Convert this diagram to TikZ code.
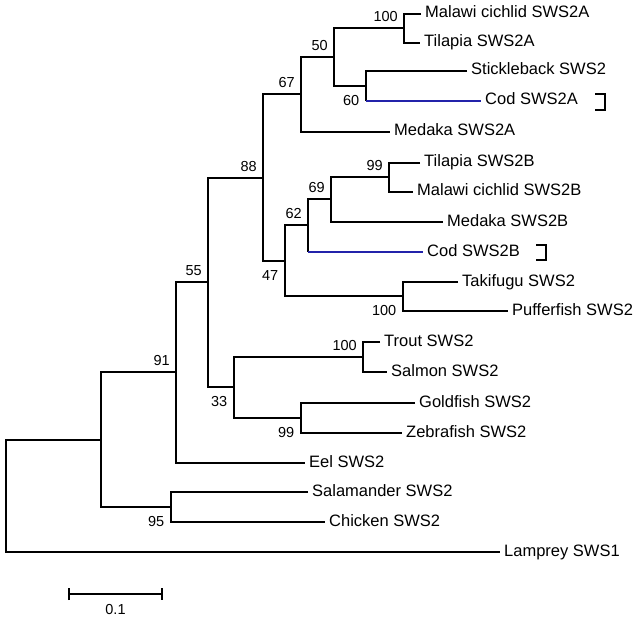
\documentclass[tikz,border=0pt]{standalone}
\usepackage{fontspec}
\setmainfont{Liberation Sans}
\usepackage{tikz}
\usetikzlibrary{positioning, calc, arrows.meta}
\definecolor{codblue}{RGB}{35,35,170}
\tikzset{
  branch/.style={draw=black,line width=1.8pt},
  codbranch/.style={draw=codblue,line width=1.2pt},
  leaf/.style={anchor=west,inner xsep=4pt,inner ysep=0pt,text height=12pt,text depth=4pt,font=\fontsize{16.5pt}{18pt}\selectfont},
  boot/.style={inner sep=0pt,font=\fontsize{14.5pt}{16pt}\selectfont},
  bootup/.style={boot,above left=6.5pt and 6pt of #1},
  bootdown/.style={boot,below left=9.5pt and 6.5pt of #1},
  bracket/.style={draw=black,line width=1.8pt},
  scalebar/.style={draw=black,line width=2pt,{Bar[width=12pt]}-{Bar[width=12pt]}},
}

\begin{document}
\begin{tikzpicture}[x=1pt,y=-1pt]
	\useasboundingbox (0,0) rectangle (636,620);
	\node[leaf] (mal2a) at (421,14) {Malawi cichlid SWS2A};
	\node[leaf] (til2a) at (420,43) {Tilapia SWS2A};
	\node[leaf] (stick) at (467,71) {Stickleback SWS2};
	\node[leaf] (cod2a) at (481,101) {Cod SWS2A};
	\node[leaf] (med2a) at (390,132) {Medaka SWS2A};
	\node[leaf] (til2b) at (420,163) {Tilapia SWS2B};
	\node[leaf] (mal2b) at (413,192) {Malawi cichlid SWS2B};
	\node[leaf] (med2b) at (443,222) {Medaka SWS2B};
	\node[leaf] (cod2b) at (423,252) {Cod SWS2B};
	\node[leaf] (taki) at (458,282) {Takifugu SWS2};
	\node[leaf] (puff) at (508,311) {Pufferfish SWS2};
	\node[leaf] (trout) at (380,342) {Trout SWS2};
	\node[leaf] (salmon) at (387,372) {Salmon SWS2};
	\node[leaf] (gold) at (415,403) {Goldfish SWS2};
	\node[leaf] (zebra) at (402,433) {Zebrafish SWS2};
	\node[leaf] (eel) at (305,463) {Eel SWS2};
	\node[leaf] (salam) at (308,492) {Salamander SWS2};
	\node[leaf] (chick) at (325,522) {Chicken SWS2};
	\node[leaf] (lamp) at (500,552) {Lamprey SWS1};

	\coordinate (n100a) at (404,28);
	\coordinate (n60) at (366,86);
	\coordinate (n50) at (334,57);
	\coordinate (n67) at (301,94);
	\coordinate (n99a) at (389,177);
	\coordinate (n69) at (331,199);
	\coordinate (n62) at (308,225);
	\coordinate (n100b) at (403,296);
	\coordinate (n47) at (285,261);
	\coordinate (n88) at (263,178);
	\coordinate (n100c) at (363,357);
	\coordinate (n99b) at (301,418);
	\coordinate (n33) at (234,387);
	\coordinate (n55) at (208,282);
	\coordinate (n91) at (176,372);
	\coordinate (n95) at (171,507);
	\coordinate (n12) at (101,440);
	\coordinate (root) at (6,496);

	\draw[branch] (mal2a.west) -| (n100a) |- (til2a.west);
	\draw[branch] (stick.west) -| (n60) -- (n60 |- cod2a.west);
	\draw[codbranch] (n60 |- cod2a.west) -- (cod2a.west);
	\draw[branch] (n100a) -| (n50) |- (n60);
	\draw[branch] (n50) -| (n67) |- (med2a.west);
	\draw[branch] (til2b.west) -| (n99a) |- (mal2b.west);
	\draw[branch] (n99a) -| (n69) |- (med2b.west);
	\draw[branch] (n69) -| (n62) -- (n62 |- cod2b.west);
	\draw[codbranch] (n62 |- cod2b.west) -- (cod2b.west);
	\draw[branch] (taki.west) -| (n100b) |- (puff.west);
	\draw[branch] (n62) -| (n47) |- (n100b);
	\draw[branch] (n67) -| (n88) |- (n47);
	\draw[branch] (trout.west) -| (n100c) |- (salmon.west);
	\draw[branch] (gold.west) -| (n99b) |- (zebra.west);
	\draw[branch] (n100c) -| (n33) |- (n99b);
	\draw[branch] (n88) -| (n55) |- (n33);
	\draw[branch] (n55) -| (n91) |- (eel.west);
	\draw[branch] (salam.west) -| (n95) |- (chick.west);
	\draw[branch] (n91) -| (n12) |- (n95);
	\draw[branch] (n12) -| (root) |- (lamp.west);

	\node[bootup=n100a] (b100a) {100};
	\node[bootup=n50] (b50) {50};
	\node[bootup=n67] (b67) {67};
	\node[bootup=n88] (b88) {88};
	\node[bootup=n55] (b55) {55};
	\node[bootup=n91] (b91) {91};
	\node[bootup=n62] (b62) {62};
	\node[bootup=n69] (b69) {69};
	\node[bootup=n99a] (b99a) {99};
	\node[bootup=n100c] (b100c) {100};
	\node[bootdown=n60] (b60) {60};
	\node[bootdown=n47] (b47) {47};
	\node[bootdown=n100b] (b100b) {100};
	\node[bootdown=n33] (b33) {33};
	\node[bootdown=n99b] (b99b) {99};
	\node[bootdown=n95] (b95) {95};

	\draw[bracket] (595,94) -- (605,94) -- (605,110) -- (595,110);
	\draw[bracket] (536,245) -- (546,245) -- (546,260) -- (536,260);

	\coordinate (sb0) at (68,594);
	\coordinate (sb1) at (163,594);
	\draw[scalebar] (sb0) -- node[boot,below=9pt] (sblab) {0.1} (sb1);
\end{tikzpicture}
\end{document}
